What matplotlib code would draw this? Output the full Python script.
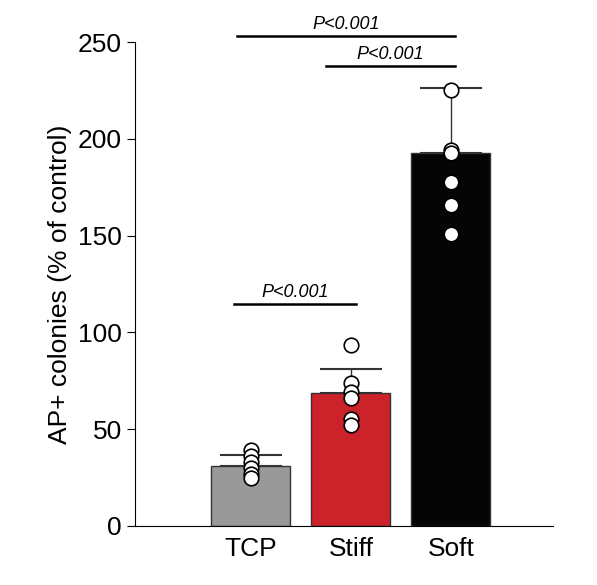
import matplotlib
matplotlib.use("Agg")
import matplotlib.pyplot as plt
import numpy as np

plt.rcParams['font.family'] = ['Liberation Sans', 'DejaVu Sans']

categories = ["TCP", "Stiff", "Soft"]
means = [31, 68.5, 192.5]
errs = [5.5, 12.5, 34]
colors = ["#999999", "#cc2229", "#050505"]
points = [
    [39, 36, 33, 30, 27, 25],
    [93.5, 74, 69, 66, 55, 52],
    [225.5, 194, 192.5, 177.5, 166, 151],
]
sig = [(-0.14, 2.04, 253, "P<0.001"), (0.75, 2.04, 237.5, "P<0.001"), (-0.17, 1.05, 114.5, "P<0.001")]

fig = plt.figure(figsize=(5.97, 5.85), dpi=100)
ax = fig.add_axes([0.226, 0.101, 0.7, 0.827])
x = np.arange(len(categories))
ax.bar(x, means, width=0.79, color=colors, edgecolor="#333333", linewidth=1, zorder=2)
for i in range(3):
    ax.errorbar(x[i], means[i], yerr=[[0], [errs[i]]], color="#333333", capsize=22, capthick=1.5, elinewidth=1, zorder=1)
    ax.scatter([x[i]] * len(points[i]), points[i], s=110, facecolor="white", edgecolor="black", linewidth=1.2, zorder=3, clip_on=False)
for x0, x1, y, t in sig:
    ax.plot([x0, x1], [y, y], color="black", lw=1.8, clip_on=False)
    ax.text((x0 + x1) / 2, y + 1.5, t, ha="center", va="bottom", fontsize=13, style="italic")
ax.set_xlim(-1.16, 3.02)
ax.set_ylim(0, 250)
ax.set_xticks(x)
ax.set_xticklabels(categories, fontsize=19)
ax.set_yticks([0, 50, 100, 150, 200, 250])
ax.tick_params(axis='y', labelsize=19, length=6, direction='out')
ax.tick_params(axis='x', length=0, pad=8)
ax.set_ylabel("AP+ colonies (% of control)", fontsize=19)
for s in ["top", "right"]:
    ax.spines[s].set_visible(False)
fig.savefig("out.png", dpi=100)
